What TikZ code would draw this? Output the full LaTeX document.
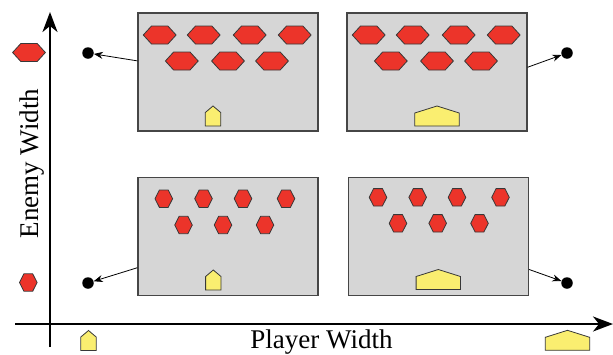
\documentclass[tikz,border=0pt]{standalone}
\usepackage{fontspec}
\setmainfont{Liberation Serif}
\usetikzlibrary{arrows.meta}

\definecolor{enemyred}{RGB}{236,52,42}
\definecolor{playeryellow}{RGB}{250,238,112}
\definecolor{screengray}{RGB}{214,214,214}
\definecolor{edgegray}{RGB}{70,70,70}

\tikzset{
  screen/.style={draw=edgegray, line width=1.2pt, fill=screengray,
    minimum width=180pt, minimum height=118pt, inner sep=0pt},
  dotmark/.style={circle, fill=black, minimum size=11.5pt, inner sep=0pt},
  link/.style={line width=0.8pt, -{Stealth[length=9pt,width=7pt]}},
  axis/.style={line width=2pt, -{Stealth[length=20pt,width=15pt,inset=6pt]}},
  hexline/.style={draw=edgegray!80!black, line width=0.8pt, fill=enemyred, line join=miter},
  shipline/.style={draw=edgegray!80!black, line width=0.8pt, fill=playeryellow},
  axlabel/.style={font=\fontsize{27}{30}\selectfont, inner sep=0pt, anchor=base},
  hexwide/.pic={\path[hexline] (-16.4,0) -- (-8.2,-9) -- (8.2,-9) -- (16.4,0)
      -- (8.2,9) -- (-8.2,9) -- cycle;},
  hexsmall/.pic={\path[hexline] (-8.8,0) -- (-4.4,-8.7) -- (4.4,-8.7) -- (8.8,0)
      -- (4.4,8.7) -- (-4.4,8.7) -- cycle;},
  shipsmall/.pic={\path[shipline] (-7.7,10) -- (-7.7,-3.5) -- (0,-10) -- (7.7,-3.5)
      -- (7.7,10) -- cycle;},
  shipwide/.pic={\path[shipline] (-22.2,10) -- (-22.2,-3) -- (0,-10) -- (22.2,-3)
      -- (22.2,10) -- cycle;},
}

\begin{document}
\begin{tikzpicture}[x=1pt,y=-1pt]
\useasboundingbox (0,0) rectangle (613,354);

% axes
\coordinate (yfrom) at (50,347);
\coordinate (yto) at (50,12);
\coordinate (xfrom) at (15,324);
\coordinate (xto) at (613,324);
\draw[axis] (yfrom) -- (yto);
\draw[axis] (xfrom) -- (xto);

\node[axlabel, rotate=90] (ylabel) at (38,163.5) {Enemy Width};
\node[axlabel] (xlabel) at (321.5,348) {Player Width};

% legend glyphs along the axes
\pic at (29,52.5) {hexwide};
\pic at (28.3,282.5) {hexsmall};
\pic at (88.5,340.5) {shipsmall};
\pic at (567.5,340.3) {shipwide};

% the four screens
\node[screen] (tl) at (228,72) {};
\node[screen] (tr) at (437,72) {};
\node[screen] (bl) at (228,236.5) {};
\node[screen] (br) at (438.5,236.5) {};

% wide enemies, top row of screens
\foreach \dx in {0,209}{
  \foreach \x in {159.7,203.7,249.7,294.7} \pic at (\x+\dx,35) {hexwide};
  \foreach \x in {181.8,228,272} \pic at (\x+\dx,61) {hexwide};
}
% small enemies, bottom row of screens
\foreach \x in {163.8,203.5,243,286} \pic at (\x,198.7) {hexsmall};
\foreach \x in {183.5,223,265} \pic at (\x,225) {hexsmall};
\foreach \x in {378,417.7,457,500.5} \pic at (\x,197.3) {hexsmall};
\foreach \x in {398,437.7,479.5} \pic at (\x,223.3) {hexsmall};

% players
\pic at (213,116) {shipsmall};
\pic at (437,116) {shipwide};
\pic at (213.3,280) {shipsmall};
\pic at (438.3,279.5) {shipwide};

% points in the width plane
\node[dotmark] (d1) at (88,53) {};
\node[dotmark] (d2) at (567,53) {};
\node[dotmark] (d3) at (88,283) {};
\node[dotmark] (d4) at (567,283) {};

\draw[link] (tl.173) -- (d1);
\draw[link] (tr.3.8) -- (d2);
\draw[link] (bl.199.3) -- (d3);
\draw[link] (br.340.8) -- (d4);
\end{tikzpicture}
\end{document}
